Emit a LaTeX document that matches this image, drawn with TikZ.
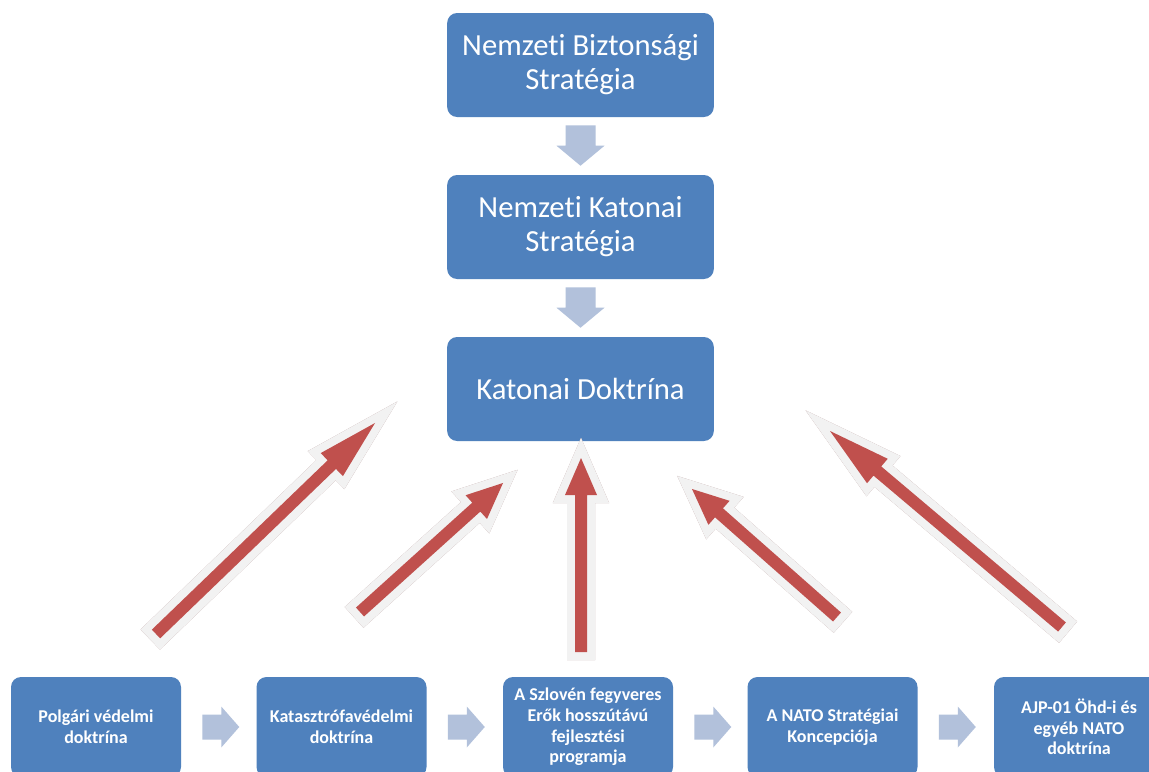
\documentclass[tikz,border=0pt]{standalone}
\usepackage{fontspec}
\setmainfont{Carlito}[Ligatures=NoCommon]
\usetikzlibrary{calc}
\definecolor{boxblue}{HTML}{4F81BD}
\definecolor{lightblue}{HTML}{B2C1DB}
\definecolor{redc}{HTML}{C0504D}
\definecolor{outlinegray}{HTML}{F2F2F2}
\definecolor{shadowc}{HTML}{B39292}
\newcommand\blockarrow[6]{%
  \path let \p1=($(#3)-(#2)$) in \pgfextra{\pgfmathparse{atan2(\y1,\x1)}\xdef\baang{\pgfmathresult}\pgfmathparse{veclen(\x1,\y1)/0.75}\xdef\balen{\pgfmathresult}};
  \path[#1, shift={(#2)}, rotate=\baang, x=0.75pt, y=0.75pt]
    (0,-#5) -- ({\balen-#4},-#5) -- ({\balen-#4},-#6) -- (\balen,0) -- ({\balen-#4},#6) -- ({\balen-#4},#5) -- (0,#5) -- cycle;
}
\newcommand\redarrow[3]{%
  \blockarrow{draw=shadowc, fill=shadowc, line width=12pt, line join=miter, xshift=2.4pt, yshift=-2.4pt}{#1}{#2}{#3}{6}{16}
  \blockarrow{draw=outlinegray, fill=outlinegray, line width=12pt, line join=miter}{#1}{#2}{#3}{6}{16}
  \blockarrow{fill=redc}{#1}{#2}{#3}{6}{16}
}
\tikzset{
  topbox/.style={rectangle, rounded corners=7.5pt, fill=boxblue, text=white,
    minimum width=200pt, minimum height=78pt, align=center,
    font=\fontsize{23}{25.5}\selectfont},
  botbox/.style={rectangle, rounded corners=7.5pt, fill=boxblue, text=white,
    minimum width=127.5pt, minimum height=75pt, align=center,
    font=\fontsize{13.5}{15.5}\selectfont\bfseries},
  flowarrow/.style={fill=lightblue}
}
\begin{document}
\begin{tikzpicture}[x=0.75pt, y=-0.75pt]
\useasboundingbox[fill=white] (0,0) rectangle (1149,771);
% top chain
\node[topbox] (nbs) at (580.5,65) {Nemzeti Biztonsági\\Stratégia};
\node[topbox] (nks) at (580.5,227) {Nemzeti Katonai\\Stratégia};
\node[topbox] (kd) at (580.5,389) {Katonai Doktrína};
% bottom row
\node[botbox] (b1) at (96,727) {Polgári védelmi\\doktrína};
\node[botbox] (b2) at (341.5,727) {Katasztrófavédelmi\\doktrína};
\node[botbox] (b3) at (588,727) {A Szlovén fegyveres\\Erők hosszútávú\\fejlesztési\\programja};
\node[botbox] (b4) at (832.5,727) {A NATO Stratégiai\\Koncepciója};
\node[botbox] (b5) at (1079,727) {AJP-01 Öhd-i és\\egyéb NATO\\doktrína};
% light blue down arrows
\coordinate (d1s) at ($(nbs.south)+(0,8)$);
\coordinate (d1e) at ($(nks.north)+(0,-9)$);
\coordinate (d2s) at ($(nks.south)+(0,8)$);
\coordinate (d2e) at ($(kd.north)+(0,-9)$);
\blockarrow{flowarrow}{d1s}{d1e}{20}{15}{24}
\blockarrow{flowarrow}{d2s}{d2e}{20}{15}{24}
% light blue right arrows
\foreach \a/\b in {b1/b2, b2/b3, b3/b4, b4/b5}{
  \coordinate (rs) at ($(\a.east)+(21,0)$);
  \coordinate (re) at ($(rs)+(37,0)$);
  \blockarrow{flowarrow}{rs}{re}{18}{12.5}{20.5}
}
% red arrows
\coordinate (t1) at (156,634); \coordinate (h1) at (375,423);
\coordinate (t2) at (360,612); \coordinate (h2) at (503,483);
\coordinate (t3) at (581,652); \coordinate (h3) at (581,458);
\coordinate (t4) at (837,617); \coordinate (h4) at (692,489);
\coordinate (t5) at (1062,627); \coordinate (h5) at (830,431);
\redarrow{t1}{h1}{60}
\redarrow{t2}{h2}{36}
\redarrow{t3}{h3}{37}
\redarrow{t4}{h4}{36}
\redarrow{t5}{h5}{62}
\end{tikzpicture}
\end{document}
